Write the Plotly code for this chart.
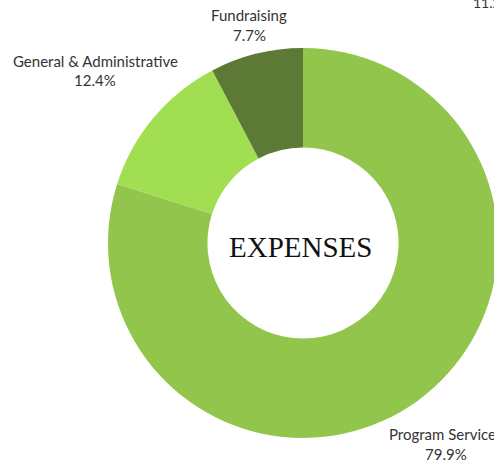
import plotly.graph_objects as go

categories = ["Program Services", "General & Administrative", "Fundraising"]
values = [79.9, 12.4, 7.7]
colors = ["#92C54B", "#A1DE52", "#5C7A35"]
center_title = "EXPENSES"
edge_label = "11.2%"

W, H = 500, 464

fig = go.Figure(go.Pie(
    labels=categories,
    values=values,
    hole=0.49,
    sort=False,
    direction="clockwise",
    rotation=0,
    marker=dict(colors=colors, line=dict(width=0)),
    textinfo="none",
    showlegend=False,
    domain=dict(x=[108 / W, 498 / W], y=[(H - 438) / H, (H - 48) / H]),
    hoverinfo="label+percent",
))

total = sum(values)
# label positions (pixel centres of each text line)
label_pos = {
    "Program Services": (446, 434, 454),
    "General & Administrative": (95, 61, 80),
    "Fundraising": (249, 15, 35),
}
label_font = dict(family="Lato", size=15, color="#333333")
for cat, v in zip(categories, values):
    cx, y1, y2 = label_pos[cat]
    fig.add_annotation(x=cx / W, y=1 - y1 / H, xref="paper", yref="paper",
                       text=cat, showarrow=False, font=label_font,
                       xanchor="center", yanchor="middle")
    fig.add_annotation(x=cx / W, y=1 - y2 / H, xref="paper", yref="paper",
                       text=f"{100 * v / total:.1f}%", showarrow=False, font=label_font,
                       xanchor="center", yanchor="middle")

fig.add_annotation(
    x=300 / W, y=1 - 247 / H, xref="paper", yref="paper",
    text=center_title, showarrow=False,
    font=dict(family="Liberation Serif", size=29, color="#111111"),
    xanchor="center", yanchor="middle",
)
fig.add_annotation(
    x=471 / W, y=1 + 8 / H, xref="paper", yref="paper",
    xanchor="left", yanchor="top",
    text=edge_label, showarrow=False,
    font=dict(family="Lato", size=14, color="#333333"),
)

fig.update_layout(
    width=W, height=H,
    margin=dict(l=0, r=0, t=0, b=0),
    paper_bgcolor="white",
    plot_bgcolor="white",
)

fig.write_html(
    "out.html",
    config={"displayModeBar": False},
    post_script="document.body.style.overflow='hidden';document.body.style.margin='0';",
)
